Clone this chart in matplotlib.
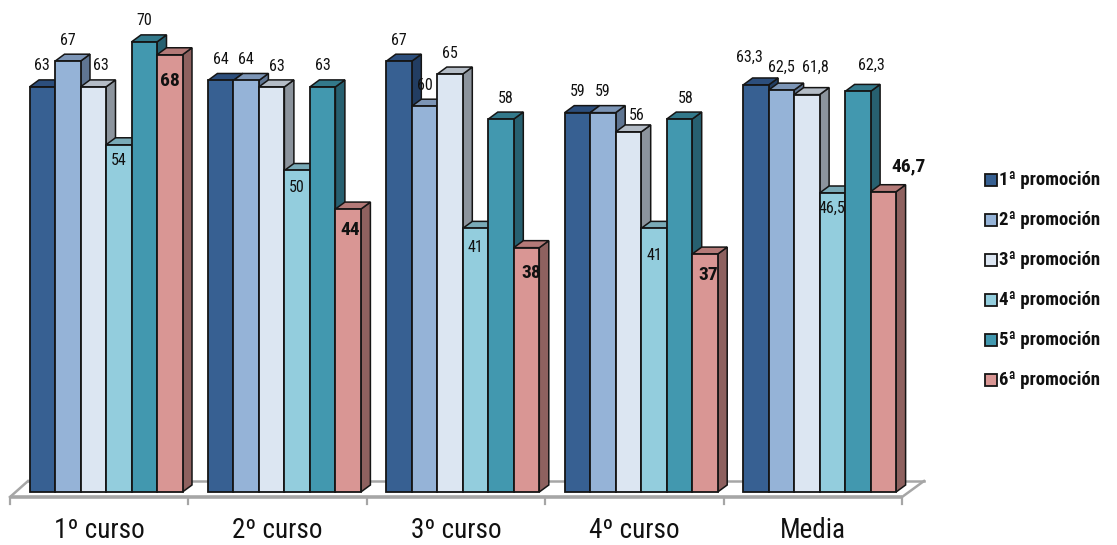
import matplotlib
matplotlib.use('Agg')
import matplotlib.pyplot as plt
from matplotlib.patches import Polygon, Rectangle
from matplotlib import font_manager

# ---------------- data ----------------
categories = ['1º curso', '2º curso', '3º curso', '4º curso', 'Media']
series_names = ['1ª promoción', '2ª promoción', '3ª promoción',
                '4ª promoción', '5ª promoción', '6ª promoción']
prom1 = [63, 64, 67, 59, 63.3]
prom2 = [67, 64, 60, 59, 62.5]
prom3 = [63, 63, 65, 56, 61.8]
prom4 = [54, 50, 41, 41, 46.5]
prom5 = [70, 63, 58, 58, 62.3]
prom6 = [68, 44, 38, 37, 46.7]
series_values = [prom1, prom2, prom3, prom4, prom5, prom6]

# ---------------- style ----------------
front_colors = ['#376092', '#95B3D7', '#DCE6F2', '#93CDDD', '#4298AF', '#D99694']
top_colors = ['#2C4E7C', '#7C95B6', '#B4BCC6', '#79AAB7', '#33798B', '#B47A78']
side_colors = ['#223D62', '#5F7592', '#8C949D', '#5E858F', '#276070', '#8E615F']
EDGE = '#151515'

available = {f.name for f in font_manager.fontManager.ttflist}
_cands = ['Liberation Sans Narrow', 'Roboto Condensed', 'DejaVu Sans Condensed', 'Roboto']
_chosen = [c for c in _cands if c in available]
FONT = (_chosen[:1] or ['DejaVu Sans']) + ['DejaVu Sans']

W, H, DPI = 1117, 545, 100
PXG = 178.4      # pixels per category
PXU = 6.43       # pixels per value unit
X0PX, Y0PX = 106, 492

bar_w = 25.5 / PXG
DX, DY = 9.5 / PXG, 7.0 / PXU

# label placement (pixel offsets from top-centre of front face)
default_off = {0: (0, 21), 1: (0, 21), 2: (0, 21), 3: (0, -17), 4: (0, 21), 5: (0, -23)}
nudge = {
    (0, 2): (8, 21), (1, 2): (5, 20), (1, 5): (2, -21), (2, 4): (5, 21),
    (2, 5): (5, -25), (3, 2): (8, 16), (3, 3): (0, -27), (3, 4): (6, 21),
    (3, 5): (3, -21), (4, 0): (-6, 28), (4, 1): (0, 23), (4, 2): (9, 27),
    (4, 3): (0, -15), (4, 4): (14, 26), (4, 5): (25, 25), (0, 5): (0, -26),
    (0, 3): (0, -16), (2, 3): (0, -19), (1, 3): (0, -17.5),
}


def fmt(v):
    if float(v).is_integer():
        return str(int(v))
    return ('%.1f' % v).replace('.', ',')


fig = plt.figure(figsize=(W / DPI, H / DPI), dpi=DPI)
ax = fig.add_axes([0, 0, 1, 1])
ax.set_xlim(-X0PX / PXG, (W - X0PX) / PXG)
ax.set_ylim((Y0PX - H) / PXU, Y0PX / PXU)
ax.axis('off')

n_cat = len(categories)
n_ser = len(series_values)

# ---------------- floor ----------------
f_shift = 0.038
f_front = -5 / PXU
f_back = 11 / PXU
f_dx_l, f_dx_r = 18 / PXG, 22 / PXG
fl = -0.5 - f_shift
fr = n_cat - 0.5 - f_shift
floor_col = '#A6A6A6'
ax.plot([fl, fr], [f_front, f_front], color=floor_col, lw=2.6, zorder=1, solid_capstyle='butt')
ax.plot([fl + f_dx_l, fr + f_dx_r], [f_back, f_back], color=floor_col, lw=1.8, zorder=1)
ax.plot([fl, fl + f_dx_l], [f_front, f_back], color=floor_col, lw=1.8, zorder=1)
ax.plot([fr, fr + f_dx_r], [f_front, f_back], color=floor_col, lw=1.8, zorder=1)
for k in range(n_cat + 1):
    xt = fl + k
    ax.plot([xt, xt], [f_front, f_front - 7 / PXU], color=floor_col, lw=1.6, zorder=1)

# ---------------- bars ----------------
z = 2
for i in range(n_cat):
    for j in range(n_ser):
        h = series_values[j][i]
        x0 = i - n_ser / 2 * bar_w + j * bar_w
        x1 = x0 + bar_w
        side = Polygon([(x1, 0), (x1 + DX, DY), (x1 + DX, h + DY), (x1, h)],
                       closed=True, facecolor=side_colors[j], edgecolor=EDGE, lw=1.1, zorder=z)
        top = Polygon([(x0, h), (x1, h), (x1 + DX, h + DY), (x0 + DX, h + DY)],
                      closed=True, facecolor=top_colors[j], edgecolor=EDGE, lw=1.1, zorder=z)
        front = Rectangle((x0, 0), bar_w, h, facecolor=front_colors[j],
                          edgecolor=EDGE, lw=1.3, zorder=z + 0.5)
        ax.add_patch(side)
        ax.add_patch(top)
        ax.add_patch(front)
        z += 1

# ---------------- value labels ----------------
for i in range(n_cat):
    for j in range(n_ser):
        h = series_values[j][i]
        x0 = i - n_ser / 2 * bar_w + j * bar_w
        dxp, dyp = nudge.get((i, j), default_off[j])
        bold = (j == 5)
        ax.annotate(fmt(h), xy=(x0 + bar_w / 2, h), xytext=(dxp * 0.72, dyp * 0.72),
                    textcoords='offset points', ha='center', va='center',
                    fontsize=14 if bold else 11.5, fontweight='bold' if bold else 'normal',
                    family=FONT, color='#111111', zorder=500)

# ---------------- category labels ----------------
for i, c in enumerate(categories):
    ax.text(i - f_shift, (Y0PX - 531) / PXU, c, ha='center', va='center',
            fontsize=19.5, family=FONT, color='#111111')

# ---------------- legend ----------------
for j, name in enumerate(series_names):
    yc = 180 + 40 * j
    ax.add_patch(Rectangle((985 / W, 1 - (yc + 6) / H), 12 / W, 12 / H,
                           transform=ax.transAxes, facecolor=front_colors[j],
                           edgecolor=EDGE, lw=1.3, zorder=600))
    ax.text(999 / W, 1 - yc / H, name, transform=ax.transAxes, ha='left', va='center',
            fontsize=13.5, fontweight='bold', family=FONT, color='#111111')

fig.savefig('out.png', dpi=DPI)
